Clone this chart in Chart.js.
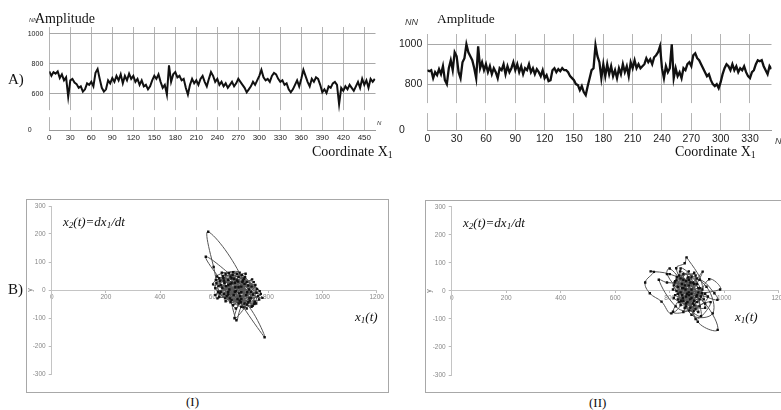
<!DOCTYPE html>
<html>
<head>
<meta charset="utf-8">
<script src="https://cdn.jsdelivr.net/npm/chart.js@4.4.1/dist/chart.umd.min.js"></script>
<style>
body { margin:0; width:781px; height:410px; overflow:hidden; background:#fff; position:relative; font-family:'Liberation Serif', serif; color:#111; }
canvas, .lbl, .box { position:absolute; }
.lbl { white-space:nowrap; line-height:1; }
.lbl sub { font-size:70%; vertical-align:-2px; line-height:0; }
.nn { font-family:'Liberation Sans', sans-serif; font-style:italic; color:#333; }
.box { border:1px solid #a8a8a8; box-sizing:border-box; }
</style>
</head>
<body>
<canvas id="topLeft" width="390" height="145" style="left:0;top:0"></canvas>
<canvas id="topRight" width="391" height="145" style="left:390px;top:0"></canvas>
<div class="box" style="left:26px;top:199px;width:363px;height:194px"></div>
<div class="box" style="left:425px;top:200px;width:400px;height:193px"></div>
<canvas id="bottomLeft" width="362" height="193" style="left:26px;top:199px"></canvas>
<canvas id="bottomRight" width="370" height="192" style="left:425px;top:200px"></canvas>

<div class="lbl nn" style="left:29px;top:17px;font-size:6px">NN</div>
<div class="lbl" style="left:35px;top:12px;font-size:14px">Amplitude</div>
<div class="lbl nn" style="left:405px;top:18px;font-size:9px">NN</div>
<div class="lbl" style="left:437px;top:12px;font-size:13.5px">Amplitude</div>
<div class="lbl" style="left:8px;top:72px;font-size:15px">A)</div>
<div class="lbl" style="left:312px;top:145px;font-size:14px">Coordinate X<sub>1</sub></div>
<div class="lbl" style="left:675px;top:145px;font-size:14px">Coordinate X<sub>1</sub></div>
<div class="lbl nn" style="left:377px;top:120px;font-size:6px">N</div>
<div class="lbl nn" style="left:775px;top:137px;font-size:9px">N</div>
<div class="lbl" style="left:8px;top:282px;font-size:15px">B)</div>
<div class="lbl" style="left:63px;top:215px;font-size:13px;font-style:italic">x<sub>2</sub>(t)=dx<sub>1</sub>/dt</div>
<div class="lbl" style="left:463px;top:216px;font-size:13px;font-style:italic">x<sub>2</sub>(t)=dx<sub>1</sub>/dt</div>
<div class="lbl" style="left:355px;top:310px;font-size:13px;font-style:italic">x<sub>1</sub>(t)</div>
<div class="lbl" style="left:735px;top:310px;font-size:13px;font-style:italic">x<sub>1</sub>(t)</div>
<div class="lbl" style="left:186px;top:395px;font-size:13px">(I)</div>
<div class="lbl" style="left:589px;top:396px;font-size:13px">(II)</div>

<script>
// A) amplitude along coordinate X1, one value every 3 (left) / 2 (right) steps
const topLeftStep = 3;
const topLeftValues = [
    750, 720, 745, 735, 750, 705, 730, 690, 710, 580,
    690, 700, 675, 665, 640, 650, 615, 630, 670, 660,
    680, 650, 740, 765, 700, 640, 615, 630, 690, 670,
    705, 680, 720, 690, 730, 670, 720, 690, 735, 700,
    720, 680, 700, 660, 690, 650, 660, 630, 650, 690,
    720, 700, 730, 680, 640, 660, 595, 790, 680, 730,
    745, 710, 720, 690, 700, 640, 595, 660, 700, 670,
    690, 660, 700, 720, 680, 650, 700, 745, 720, 680,
    700, 660, 680, 650, 670, 640, 660, 680, 650, 670,
    700, 680, 660, 640, 610, 630, 650, 680, 660, 690,
    720, 760, 710, 690, 700, 680, 720, 740, 730, 700,
    680, 690, 660, 670, 630, 610, 630, 660, 690, 650,
    700, 760, 720, 680, 650, 700, 680, 710, 700, 660,
    610, 630, 605, 650, 640, 670, 680, 660, 530, 640,
    620, 650, 630, 660, 640, 620, 650, 680, 640, 700,
    660, 690, 640, 700, 680, 700
];
const topLeftTicksX = [0, 30, 60, 90, 120, 150, 180, 210, 240, 270, 300, 330, 360, 390, 420, 450];
const topLeftTicksY = [600, 800, 1000];

const topRightStep = 2;
const topRightValues = [
    870, 865, 870, 830, 860, 845, 875, 850, 890, 820,
    800, 880, 920, 870, 960, 940, 860, 830, 910, 930,
    1000, 960, 940, 920, 880, 830, 990, 880, 910, 870,
    900, 860, 890, 850, 880, 860, 830, 880, 870, 900,
    850, 890, 860, 880, 910, 870, 900, 860, 890, 850,
    880, 870, 900, 860, 880, 850, 875, 860, 840, 870,
    830, 845, 815, 820, 870, 880, 860, 875, 865, 880,
    870, 870, 860, 840, 830, 820, 800, 795, 770, 790,
    760, 745, 790, 830, 870, 880, 995, 940, 910, 830,
    900, 840, 900, 850, 890, 840, 870, 830, 880, 850,
    900, 860, 890, 840, 910, 880, 920, 880, 900, 880,
    890, 900, 930, 910, 925, 900, 935, 945, 960, 990,
    880, 830, 890, 860, 880, 1000, 830, 880, 840, 860,
    830, 880, 870, 900, 910, 890, 945, 955, 930, 920,
    900, 880, 860, 840, 850, 820, 800, 790, 800, 780,
    810, 850, 880, 900, 890, 870, 900, 870, 890, 860,
    880, 870, 890, 860, 840, 830, 860, 870, 900, 920,
    915, 920, 890, 870, 850, 890, 875
];
const topRightTicksX = [0, 30, 60, 90, 120, 150, 180, 210, 240, 270, 300, 330];
const topRightTicksY = [800, 1000];

// B) phase portraits x1(t) / x2(t)=dx1/dt
const bottomLeftX1 = [
    652, 700, 664, 722, 616, 690, 750, 672, 632, 712,
    742, 604, 684, 762, 652, 622, 700, 732, 668, 772,
    640, 598, 578, 706, 690, 618, 726, 656, 708, 636,
    746, 676, 604, 714, 660, 758, 628, 696, 736, 652,
    786, 722, 608, 680, 644, 569, 688, 735, 664, 702,
    755, 624, 678, 740, 612, 692, 675, 726, 700, 682,
    660, 718, 636, 766, 646, 694, 610, 728, 670, 752,
    620, 704, 686, 642, 738, 596, 674, 744, 658, 716,
    630, 698, 664, 768, 618, 710, 680, 634, 730, 690,
    606, 748, 654, 720, 642, 700, 660, 778, 624, 712,
    684, 652, 738, 614, 694, 670, 756, 638, 720, 676
];
const bottomLeftX2 = [
    18, -32, 42, -8, 14, 46, -42, -18, 50, 22,
    -56, 6, 58, -22, -8, 32, 12, -38, 54, -14,
    -30, 82, 208, 34, -48, 42, 16, 2, -62, -14,
    28, 26, -18, 46, -44, 4, 62, -22, -6, 36,
    -169, -52, 24, -4, 14, 119, 30, -28, -36, 54,
    -48, -6, 10, 38, -30, -12, -101, -44, -60, -108,
    22, -18, 34, -34, -22, 62, 48, 2, -54, 18,
    -12, 28, -32, 56, -60, 20, 40, -16, -30, 58,
    8, -44, 26, -4, -24, 40, -66, 44, -30, 10,
    36, -50, 60, 28, -40, -8, 48, -28, 18, -48,
    34, -16, 12, -6, -38, 64, -10, 26, -66, -6
];

const bottomRightX1 = [
    850, 900, 820, 880, 830, 870, 910, 845, 815, 890,
    925, 835, 860, 905, 800, 730, 742, 710, 727, 770,
    806, 860, 880, 840, 920, 862, 855, 824, 870, 895,
    830, 915, 850, 885, 812, 876, 840, 903, 976, 930,
    864, 820, 890, 850, 935, 958, 880, 845, 910, 964,
    975, 900, 835, 870, 825, 985, 945, 890, 855, 921,
    870, 800, 790, 840, 905, 860, 930, 815, 880, 850,
    895, 825, 910, 865, 838, 918, 880, 845, 900, 790,
    760, 822, 872, 940, 858, 890, 830, 915, 868, 848,
    905, 812, 876, 895, 950, 860, 826, 885, 842, 900,
    870, 818, 930, 856, 888, 840, 912, 875, 850, 898
];
const bottomRightX2 = [
    10, -40, 35, -10, -30, 40, -55, -15, 20, 25,
    -30, 55, -45, 10, 60, 70, 68, 30, -8, -38,
    -80, -20, 50, -50, 5, 120, 99, 81, -5, -65,
    15, -20, -35, 30, -74, -60, 45, -110, -139, -45,
    -10, -15, -35, 60, 15, -80, -85, 25, 40, -8,
    -32, -15, -40, 70, 0, 5, 42, -50, -60, 69,
    20, 80, 60, -5, -75, 35, -60, -25, 5, -75,
    55, 40, -30, -40, 70, -8, -25, 10, 25, 30,
    40, -55, -70, -20, 5, 65, -10, -90, 48, -25,
    -5, 5, 30, -100, -40, -55, 50, -45, -35, 45,
    -15, 30, -10, 20, -72, 80, 10, -30, 40, -20
];
const bottomTicksX = [0, 200, 400, 600, 800, 1000, 1200];
const bottomTicksY = [-300, -200, -100, 0, 100, 200, 300];

Chart.defaults.animation = false;
Chart.defaults.font.family = 'Liberation Sans';

// white band across the plot where the y axis is broken
const axisBreak = {
    id: 'axisBreak',
    beforeDatasetsDraw(chart, args, opts) {
        if (opts.from === undefined) return;
        const ctx = chart.ctx;
        const a = chart.chartArea;
        const top = chart.scales.y.getPixelForValue(opts.to);
        const bottom = chart.scales.y.getPixelForValue(opts.from);
        ctx.save();
        ctx.fillStyle = '#fff';
        ctx.fillRect(a.left - 2, top, a.right - a.left + 4, bottom - top);
        ctx.restore();
    }
};

function CreateTopChart(id, cfg) {
    const points = cfg.values.map((v, i) => ({ x: i * cfg.step, y: v }));
    new Chart(document.getElementById(id), {
        type: 'line',
        data: {
            datasets: [{
                data: points,
                borderColor: '#111',
                borderWidth: cfg.lineWidth,
                pointRadius: 0,
                tension: 0
            }]
        },
        options: {
            responsive: false,
            layout: { padding: { top: cfg.padTop, right: cfg.padRight, left: 0, bottom: 0 } },
            plugins: {
                legend: { display: false },
                tooltip: { enabled: false },
                axisBreak: { from: cfg.breakFrom, to: cfg.breakTo }
            },
            scales: {
                x: {
                    type: 'linear',
                    min: 0,
                    max: cfg.xMax,
                    afterBuildTicks: s => { s.ticks = cfg.xTicks.map(v => ({ value: v })); },
                    afterFit: s => { s.height = 15; },
                    grid: { color: '#b4b4b4', lineWidth: 1, drawTicks: false },
                    border: { color: '#9a9a9a', width: 1 },
                    ticks: { color: '#222', font: { size: cfg.xFont }, padding: 3, maxRotation: 0 }
                },
                y: {
                    min: cfg.yMin,
                    max: cfg.yMax,
                    afterBuildTicks: s => { s.ticks = [cfg.yMin].concat(cfg.yTicks).map(v => ({ value: v })); },
                    afterFit: s => { s.width = cfg.axisWidth; },
                    grid: { color: '#a8a8a8', lineWidth: 1, drawTicks: false },
                    border: { display: false },
                    ticks: {
                        color: '#222',
                        font: { size: cfg.yFont },
                        padding: cfg.yPad,
                        // the bottom of the broken axis is labelled 0
                        callback: v => v === cfg.yMin ? '0\u2007\u2007\u2007' : String(v)
                    }
                }
            }
        },
        plugins: [axisBreak]
    });
}

function CreatePhaseChart(id, xs, ys, cfg) {
    const points = xs.map((x, i) => ({ x: x, y: ys[i] }));
    new Chart(document.getElementById(id), {
        type: 'scatter',
        data: {
            datasets: [{
                data: points,
                showLine: true,
                borderColor: '#555',
                borderWidth: 1,
                tension: 0.4,
                pointStyle: 'rect',
                pointRadius: 1.7,
                pointBackgroundColor: '#111',
                pointBorderWidth: 0
            }]
        },
        options: {
            responsive: false,
            layout: { padding: { top: cfg.padTop, right: cfg.padRight, left: 0, bottom: cfg.padBottom } },
            plugins: { legend: { display: false }, tooltip: { enabled: false } },
            scales: {
                x: {
                    type: 'linear',
                    position: { y: 0 },
                    min: 0,
                    max: 1200,
                    afterBuildTicks: s => { s.ticks = bottomTicksX.map(v => ({ value: v })); },
                    grid: { drawOnChartArea: false, tickLength: 2, color: '#bbb' },
                    border: { color: '#c4c4c4', width: 1 },
                    ticks: { color: '#888', font: { size: 6.5 }, padding: 1, maxRotation: 0, callback: v => String(v) }
                },
                y: {
                    min: -300,
                    max: 300,
                    afterBuildTicks: s => { s.ticks = bottomTicksY.map(v => ({ value: v })); },
                    afterFit: s => { s.width = cfg.axisWidth; },
                    title: { display: true, text: 'y', color: '#777', font: { size: 7 }, padding: 0 },
                    grid: { drawOnChartArea: false, tickLength: 3, color: '#bbb' },
                    border: { color: '#c4c4c4', width: 1 },
                    ticks: { color: '#888', font: { size: 6.5 }, padding: 3, callback: v => String(v) }
                }
            }
        }
    });
}

CreateTopChart('topLeft', {
    values: topLeftValues, step: topLeftStep, xMax: 466, xTicks: topLeftTicksX,
    yMin: 358, yMax: 1046.7, yTicks: topLeftTicksY, breakFrom: 444, breakTo: 491,
    axisWidth: 49.3, padTop: 27, padRight: 14.5, xFont: 8, yFont: 7, yPad: 6, lineWidth: 2
});
CreateTopChart('topRight', {
    values: topRightValues, step: topRightStep, xMax: 352, xTicks: topRightTicksX,
    yMin: 570, yMax: 1051.5, yTicks: topRightTicksY, breakFrom: 655, breakTo: 705,
    axisWidth: 37.3, padTop: 34, padRight: 9.5, xFont: 10.5, yFont: 10.5, yPad: 5, lineWidth: 2.3
});
CreatePhaseChart('bottomLeft', bottomLeftX1, bottomLeftX2, { axisWidth: 25.7, padTop: 7, padRight: 11.3, padBottom: 18 });
CreatePhaseChart('bottomRight', bottomRightX1, bottomRightX2, { axisWidth: 26.7, padTop: 6.7, padRight: 16.3, padBottom: 17 });
</script>
</body>
</html>
